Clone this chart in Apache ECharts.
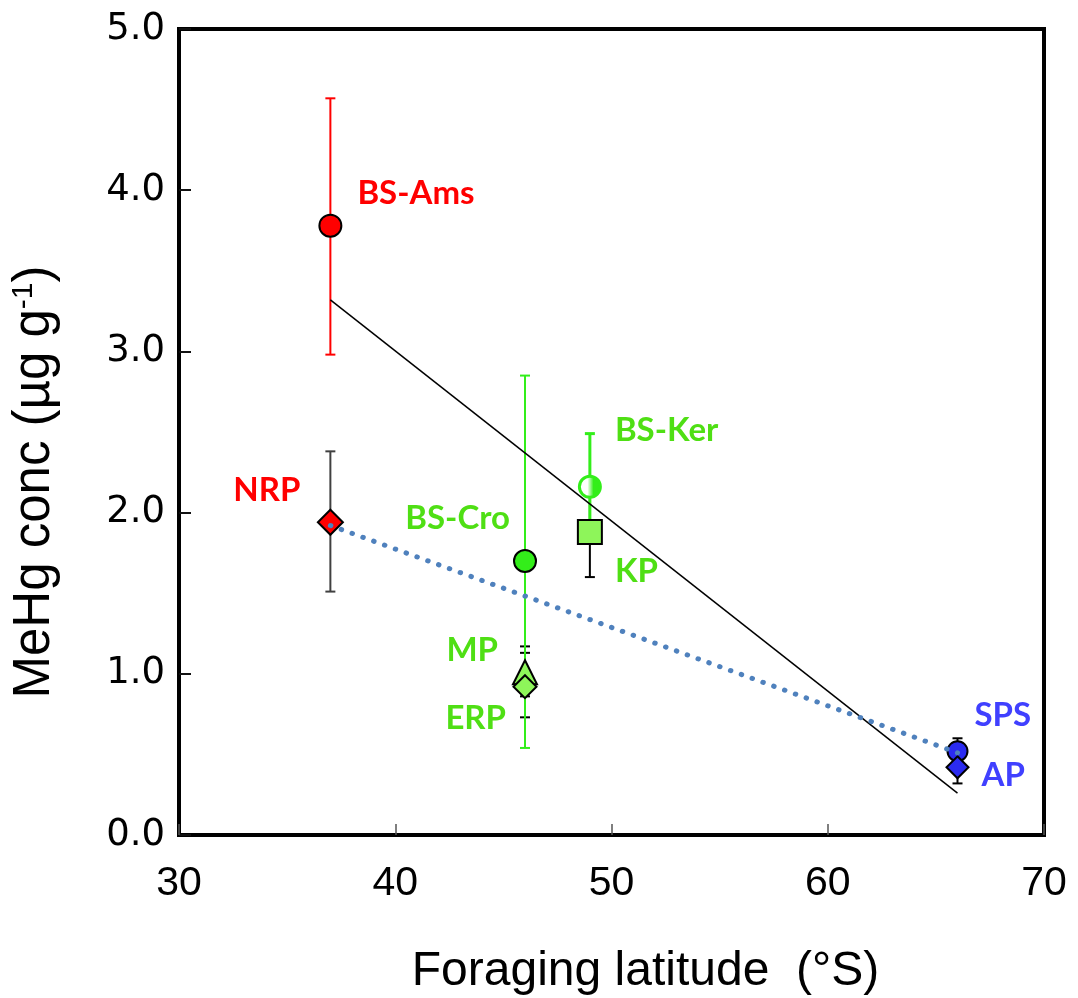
<!DOCTYPE html>
<html>
<head>
<meta charset="utf-8">
<script src="https://cdn.jsdelivr.net/npm/echarts@6/dist/echarts.min.js"></script>
<style>
  html, body { margin: 0; padding: 0; background: #fff; }
  #chart { width: 1078px; height: 998px; }
</style>
</head>
<body>
<div id="chart"></div>
<script>
// species / colonies, foraging latitude (°S) and MeHg concentration (µg g-1)
var names = ["BS-Ams", "NRP", "BS-Cro", "BS-Ker", "KP", "MP", "ERP", "SPS", "AP"];
var latitude = [37, 37, 46, 49, 49, 46, 46, 66, 66];
var mehg = [3.78, 1.94, 1.70, 2.16, 1.88, 1.01, 0.92, 0.52, 0.42];
var errLow = [2.98, 1.51, 0.54, 1.83, 1.60, 0.86, 0.73, 0.44, 0.32];
var errHigh = [4.57, 2.38, 2.85, 2.49, 2.16, 1.17, 1.13, 0.60, 0.50];

// trend lines (end points)
var trendX = [37, 66];
var linearTrend = [3.32, 0.26];
var dottedTrend = [1.92, 0.51];

var xTicks = [30, 40, 50, 60, 70];
var yTicks = [0, 1, 2, 3, 4, 5];

var RED = "#ff0000", GREEN = "#33ee1a", LGREEN = "#8ef55a", BLUE = "#2b2bf0";
var TXT_GREEN = "#4fdf14", TXT_BLUE = "#4040ff";

// look of each point: symbol, fill, error bar colour, label placement
var looks = {
    "BS-Ams": {symbol: "circle", size: 22, color: RED, bar: RED, barW: 2, text: RED, align: "left", off: [27, -32]},
    "NRP":    {symbol: "diamond", size: 25, color: RED, bar: "#404040", barW: 2, text: RED, align: "right", off: [-30, -32]},
    "BS-Cro": {symbol: "circle", size: 22, color: GREEN, bar: GREEN, barW: 2, text: TXT_GREEN, align: "right", off: [-15, -43]},
    "BS-Ker": {symbol: "circle", size: 21, color: "ker", border: GREEN, borderW: 3, bar: GREEN, barW: 3, text: TXT_GREEN, align: "left", off: [25, -56]},
    "KP":     {symbol: "rect", size: 24, color: LGREEN, bar: "#000", barW: 2, text: TXT_GREEN, align: "left", off: [25, 39]},
    "MP":     {symbol: "triangle", size: 24, color: LGREEN, bar: "#000", barW: 2, text: TXT_GREEN, align: "right", off: [-27, -22]},
    "ERP":    {symbol: "diamond", size: 23, color: LGREEN, bar: "#000", barW: 2, text: TXT_GREEN, align: "right", off: [-19, 32]},
    "SPS":    {symbol: "circle", size: 20, color: BLUE, bar: "#000", barW: 2, text: TXT_BLUE, align: "left", off: [17, -36]},
    "AP":     {symbol: "diamond", size: 22, color: BLUE, bar: "#000", barW: 2, text: TXT_BLUE, align: "left", off: [24, 8]}
};

var chart = echarts.init(document.getElementById("chart"));

var kerFill = new echarts.graphic.LinearGradient(0, 0, 1, 0, [
    {offset: 0, color: "#ffffff"},
    {offset: 0.4, color: "#ffffff"},
    {offset: 0.65, color: GREEN},
    {offset: 1, color: GREEN}
]);

var pointData = [];
var blackBars = [], colourBars = [];
for (var i = 0; i < names.length; i++) {
    var lk = looks[names[i]];
    pointData.push({
        name: names[i],
        value: [latitude[i], mehg[i]],
        symbol: lk.symbol,
        symbolSize: lk.size,
        itemStyle: {
            color: lk.color === "ker" ? kerFill : lk.color,
            borderColor: lk.border || "#000",
            borderWidth: lk.borderW || 2,
            opacity: 1
        },
        label: {
            show: true,
            formatter: names[i],
            position: "inside",
            align: lk.align,
            verticalAlign: "middle",
            offset: lk.off,
            color: lk.text,
            opacity: 1,
            fontFamily: "Lato",
            fontWeight: "bold",
            fontSize: 33
        }
    });
    var bar = {value: [latitude[i], errLow[i], errHigh[i]], c: lk.bar, w: lk.barW};
    if (lk.bar === "#000" || lk.bar === "#404040") blackBars.push(bar); else colourBars.push(bar);
}

function errorBar(params, api) {
    var src = params.seriesName === "errBlack" ? blackBars : colourBars;
    var b = src[params.dataIndex];
    var lo = api.coord([api.value(0), api.value(1)]);
    var hi = api.coord([api.value(0), api.value(2)]);
    var style = {stroke: b.c, lineWidth: b.w};
    var cap = 5;
    return {
        type: "group",
        children: [
            {type: "line", shape: {x1: lo[0], y1: lo[1], x2: hi[0], y2: hi[1]}, style: style},
            {type: "line", shape: {x1: lo[0] - cap, y1: lo[1], x2: lo[0] + cap, y2: lo[1]}, style: style},
            {type: "line", shape: {x1: hi[0] - cap, y1: hi[1], x2: hi[0] + cap, y2: hi[1]}, style: style}
        ]
    };
}

var axisFont = {fontFamily: "Liberation Sans, Arial", color: "#000"};

var option = {
    animation: false,
    grid: {left: 179, right: 34, top: 29, bottom: 163, show: true, borderColor: "#000", borderWidth: 4,
        outerBoundsMode: "none"},
    xAxis: {
        type: "value",
        min: xTicks[0], max: xTicks[xTicks.length - 1], interval: 10,
        splitLine: {show: false},
        axisLine: {lineStyle: {color: "#000", width: 4}},
        axisTick: {inside: true, length: 11, lineStyle: {color: "#555", width: 1.5}},
        axisLabel: Object.assign({fontSize: 41, margin: 28}, axisFont),
        name: "Foraging latitude  (°S)",
        nameLocation: "middle",
        nameGap: 113,
        nameTextStyle: Object.assign({fontSize: 48, padding: [0, 0, 0, 68]}, axisFont)
    },
    yAxis: {
        type: "value",
        min: yTicks[0], max: yTicks[yTicks.length - 1], interval: 1,
        splitLine: {show: false},
        axisLine: {lineStyle: {color: "#000", width: 4}},
        axisTick: {inside: true, length: 12, lineStyle: {color: "#111", width: 2}},
        axisLabel: {fontFamily: "DejaVu Sans", color: "#000", fontSize: 37, margin: 14,
            formatter: function (v) { return v.toFixed(1); }},
        name: "{a|MeHg conc (µg g}{s|-1}{a|)}",
        nameLocation: "middle",
        nameGap: 118,
        nameTextStyle: {
            padding: [0, 100, 0, 0],
            rich: {
                a: Object.assign({fontSize: 51}, axisFont),
                s: Object.assign({fontSize: 30, padding: [0, 0, 22, 0]}, axisFont)
            }
        }
    },
    series: [
        {name: "errBlack", type: "custom", renderItem: errorBar, z: 2,
            data: blackBars.map(function (b) { return b.value; })},
        {name: "errColour", type: "custom", renderItem: errorBar, z: 3,
            data: colourBars.map(function (b) { return b.value; })},
        {name: "points", type: "scatter", z: 4, data: pointData},
        {name: "linear", type: "line", z: 5, symbol: "none",
            lineStyle: {color: "#000", width: 1.5},
            data: trendX.map(function (x, k) { return [x, linearTrend[k]]; })},
        {name: "dotted", type: "line", z: 6, symbol: "none",
            lineStyle: {color: "#4f81bd", width: 5, type: [0.5, 11], cap: "round"},
            data: trendX.map(function (x, k) { return [x, dottedTrend[k]]; })}
    ]
};
chart.setOption(option);
</script>
</body>
</html>
